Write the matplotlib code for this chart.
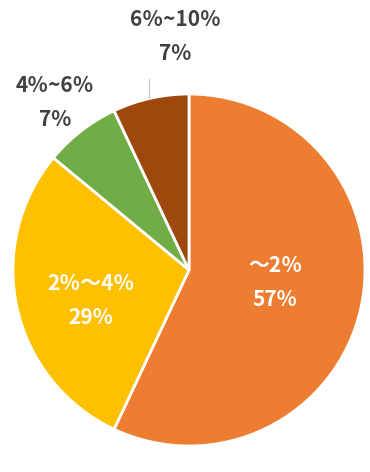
import matplotlib
matplotlib.use("Agg")
import matplotlib.pyplot as plt

categories = ["～2％", "2％～4％", "4％~6％", "6％~10％"]
values = [57, 29, 7, 7]
pct_labels = ["57%", "29%", "7%", "7%"]

colors = ["#ED7D31", "#FFC000", "#70AD47", "#9E480E"]
text_colors = ["white", "white", "#404040", "#404040"]
# label centres in pixel coords (x from left, y from top)
label_pos = [(275, 283), (91, 300), (55, 103), (175, 36)]

plt.rcParams['font.family'] = ['Noto Sans CJK SC', 'DejaVu Sans']

W, H = 370, 472
fig = plt.figure(figsize=(W / 100, H / 100), dpi=100)
ax = fig.add_axes([0, 0, 1, 1])

cx, cy, r = 189, H - 270, 176
ax.pie(values, colors=colors, startangle=90, counterclock=False,
       center=(cx, cy), radius=r, frame=True,
       wedgeprops=dict(edgecolor='white', linewidth=2))
ax.set_xlim(0, W)
ax.set_ylim(0, H)
ax.set_aspect('equal')
ax.axis('off')

for cat, pl, (x, y), tc in zip(categories, pct_labels, label_pos, text_colors):
    ax.text(x, H - y + 17, cat, ha='center', va='center', color=tc,
            fontsize=15, fontweight='bold')
    ax.text(x, H - y - 17, pl, ha='center', va='center', color=tc,
            fontsize=15, fontweight='bold')

# leader line for last label
ax.plot([149, 149], [H - 79, H - 98], color='#C5CBBF', linewidth=0.9)

fig.savefig("out.png", dpi=100)
